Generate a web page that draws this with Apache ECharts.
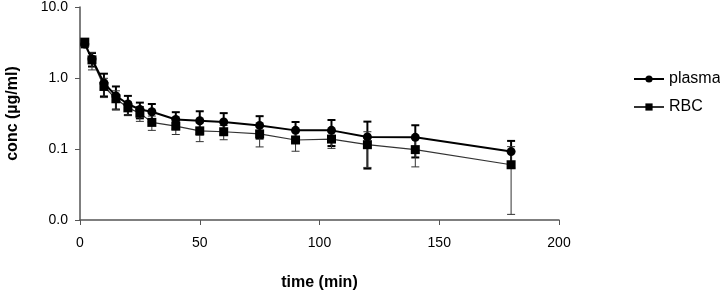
<!DOCTYPE html>
<html>
<head>
<meta charset="utf-8">
<script src="https://cdn.jsdelivr.net/npm/echarts@6/dist/echarts.min.js"></script>
<style>
  html, body { margin: 0; padding: 0; background: #fff; }
  #main { width: 720px; height: 294px; }
</style>
</head>
<body>
<div id="main"></div>
<script>
// sampling times (min)
var times = [2, 5, 10, 15, 20, 25, 30, 40, 50, 60, 75, 90, 105, 120, 140, 180];
// plasma mean and SD (ug/ml)
var plasmaMean = [3.0, 1.85, 0.85, 0.56, 0.43, 0.36, 0.335, 0.26, 0.25, 0.24, 0.215, 0.183, 0.183, 0.148, 0.146, 0.092];
var plasmaSd = [0.3, 0.4, 0.3, 0.2, 0.13, 0.09, 0.095, 0.07, 0.09, 0.08, 0.075, 0.057, 0.073, 0.095, 0.07, 0.038];
// RBC mean and SD (ug/ml)
var rbcMean = [3.2, 1.8, 0.76, 0.51, 0.38, 0.32, 0.237, 0.21, 0.18, 0.175, 0.163, 0.134, 0.138, 0.115, 0.098, 0.06];
var rbcSd = [0.25, 0.5, 0.23, 0.15, 0.08, 0.075, 0.054, 0.05, 0.053, 0.04, 0.056, 0.041, 0.036, 0.06, 0.042, 0.048];

var chart = echarts.init(document.getElementById('main'), null, { renderer: 'canvas' });

function pairs(xs, ys) {
  return xs.map(function (x, i) { return [x, ys[i]]; });
}
function errData(xs, m, s) {
  return xs.map(function (x, i) { return [x, m[i], s[i]]; });
}
// vertical error bar with caps, mean +/- sd (clipped at the axis min)
function errorBars(color, width) {
  return function (params, api) {
    var x = api.value(0), m = api.value(1), s = api.value(2);
    var lo = Math.max(m - s, 0.01);
    var hi = m + s;
    var pTop = api.coord([x, hi]);
    var pBot = api.coord([x, lo]);
    var cap = 4;
    var st = { stroke: color, lineWidth: width, fill: null };
    return {
      type: 'group',
      children: [
        { type: 'line', shape: { x1: pTop[0], y1: pTop[1], x2: pBot[0], y2: pBot[1] }, style: st },
        { type: 'line', shape: { x1: pTop[0] - cap, y1: pTop[1], x2: pTop[0] + cap, y2: pTop[1] }, style: st },
        { type: 'line', shape: { x1: pBot[0] - cap, y1: pBot[1], x2: pBot[0] + cap, y2: pBot[1] }, style: st }
      ]
    };
  };
}

var font = 'Liberation Sans, Arial, sans-serif';
var option = {
  animation: false,
  textStyle: { fontFamily: font },
  grid: { left: 80, right: 161, top: 7, bottom: 74, containLabel: false, outerBoundsMode: 'none' },
  legend: {
    orient: 'vertical',
    left: 628,
    top: 66,
    itemWidth: 30,
    itemHeight: 9,
    itemGap: 12,
    data: ['plasma', 'RBC'],
    textStyle: { fontSize: 16, color: '#000', fontFamily: font }
  },
  xAxis: {
    type: 'value',
    min: 0, max: 200, interval: 50,
    name: 'time (min)',
    nameLocation: 'middle',
    nameGap: 55,
    nameTextStyle: { fontSize: 16, fontWeight: 'bold', color: '#000' },
    axisLine: { lineStyle: { color: '#555', width: 1.5 } },
    axisTick: { show: true, length: 5, lineStyle: { color: '#555' } },
    axisLabel: { fontSize: 14, color: '#000', margin: 16 },
    splitLine: { show: false }
  },
  yAxis: {
    type: 'log',
    min: 0.01, max: 10, logBase: 10,
    name: 'conc (µg/ml)',
    nameLocation: 'middle',
    nameGap: 59,
    nameTextStyle: { fontSize: 16, fontWeight: 'bold', color: '#000' },
    axisLine: { show: true, lineStyle: { color: '#555', width: 1.5 } },
    axisTick: { show: true, length: 5, lineStyle: { color: '#555' } },
    axisLabel: {
      fontSize: 14, color: '#000', margin: 12,
      formatter: function (v) { return v.toFixed(1); }
    },
    splitLine: { show: false }
  },
  series: [
    {
      name: 'plasma-err', type: 'custom', z: 2,
      renderItem: errorBars('#000', 2),
      encode: { x: 0, y: 1 },
      data: errData(times, plasmaMean, plasmaSd)
    },
    {
      name: 'RBC-err', type: 'custom', z: 2,
      renderItem: errorBars('#333', 1),
      encode: { x: 0, y: 1 },
      data: errData(times, rbcMean, rbcSd)
    },
    {
      name: 'RBC', type: 'line', z: 3,
      symbol: 'rect', symbolSize: 9,
      lineStyle: { color: '#333', width: 1.2 },
      itemStyle: { color: '#000' },
      data: pairs(times, rbcMean)
    },
    {
      name: 'plasma', type: 'line', z: 4,
      symbol: 'circle', symbolSize: 9,
      lineStyle: { color: '#000', width: 2 },
      itemStyle: { color: '#000' },
      data: pairs(times, plasmaMean)
    }
  ]
};
chart.setOption(option);
</script>
</body>
</html>
